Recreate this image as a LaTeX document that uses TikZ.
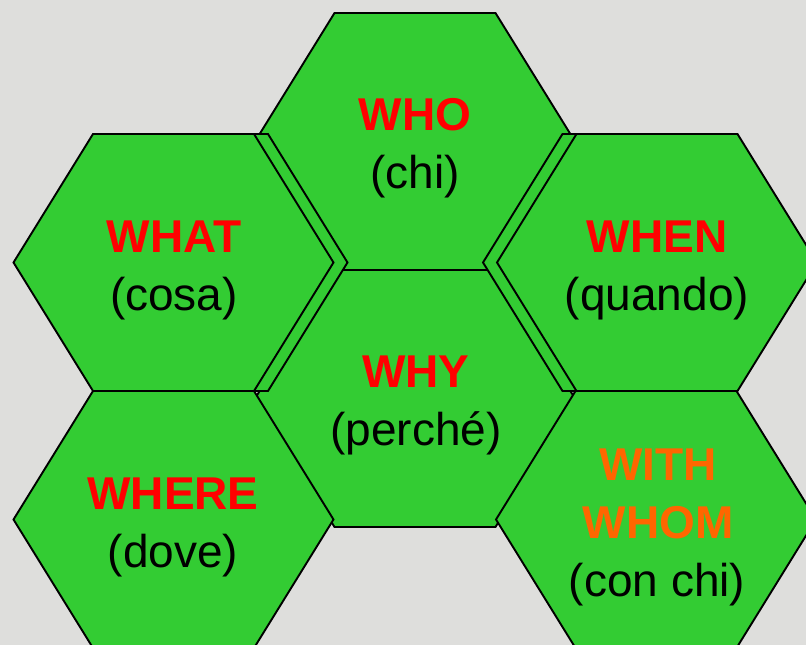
\documentclass[tikz,border=0pt]{standalone}
\usepackage{fontspec}
\setmainfont{Liberation Sans}
\definecolor{hexgreen}{RGB}{51,204,51}
\definecolor{whred}{RGB}{255,0,0}
\definecolor{whorange}{RGB}{255,102,0}
\definecolor{bgmarble}{RGB}{222,222,220}
\newcommand{\hexpath}[3]{%
  \draw[hexa] (#1-160,#2) -- (#1-80.5,#2-128.5) -- (#1+80.5,#2-128.5) -- (#1+160,#2)
     -- (#1+80.5,#2+128.5) -- (#1-80.5,#2+128.5) -- cycle;
  \coordinate (#3) at (#1,#2);}
\begin{document}
\begin{tikzpicture}[x=1pt,y=-1pt,
  hexa/.style={fill=hexgreen,draw=black,line width=1.9pt,line join=miter},
  wh/.style={font=\bfseries\fontsize{46}{46}\selectfont,text=whred,anchor=base,inner sep=0pt},
  whor/.style={wh,text=whorange},
  sub/.style={font=\fontsize{46}{46}\selectfont,text=black,anchor=base,inner sep=0pt}]
\useasboundingbox (0,0) rectangle (806,645);
\fill[bgmarble] (0,0) rectangle (806,645);
\clip (0,0) rectangle (806,645);
% hexagons
\hexpath{415}{141.5}{hwho}
\hexpath{415}{398.5}{hwhy}
\hexpath{173.5}{519.5}{hwhere}
\hexpath{656}{519.5}{hwith}
\hexpath{187.5}{262.5}{hwhatback}
\hexpath{173.5}{262.5}{hwhat}
\hexpath{643}{262.5}{hwhenback}
\hexpath{657}{262.5}{hwhen}
% labels
\node[wh]  (twho)   at (415,130) {WHO};
\node[sub] (swho)   at (415,188) {(chi)};
\node[wh]  (twhat)  at (174,252) {WHAT};
\node[sub] (swhat)  at (174,310) {(cosa)};
\node[wh]  (twhen)  at (657,252) {WHEN};
\node[sub] (swhen)  at (657,310) {(quando)};
\node[wh]  (twhy)   at (416,387) {WHY};
\node[sub] (swhy)   at (416,445) {(perché)};
\node[wh]  (twhere) at (173,509) {WHERE};
\node[sub] (swhere) at (173,567) {(dove)};
\node[whor] (twith) at (658,480) {WITH};
\node[whor] (twhom) at (658,538) {WHOM};
\node[sub] (swith)  at (657,596) {(con chi)};
\end{tikzpicture}
\end{document}
